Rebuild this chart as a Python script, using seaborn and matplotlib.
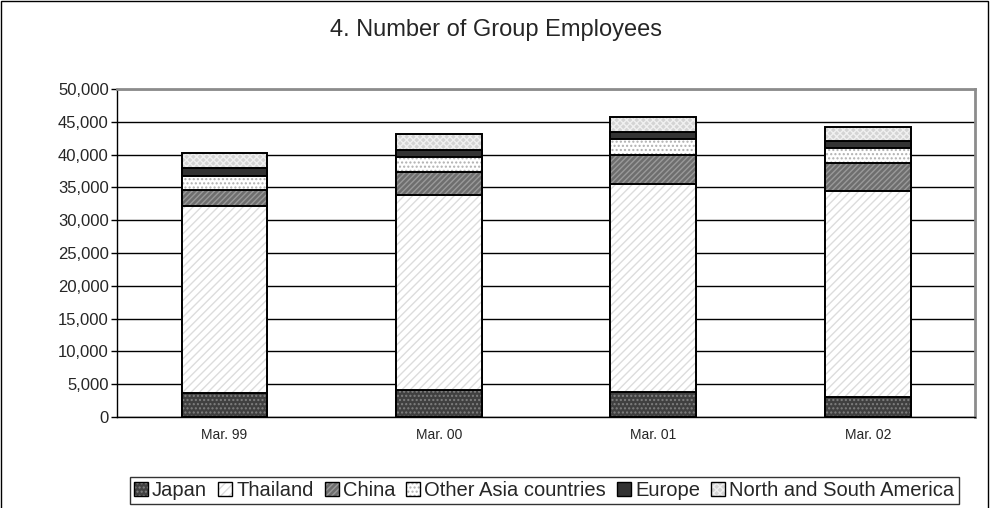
# Stacked bar chart: number of group employees by region
import pandas as pd
import matplotlib.pyplot as plt
import seaborn as sns
from matplotlib.patches import Rectangle, Patch
from matplotlib.ticker import FuncFormatter

# Data
periods = ['Mar. 99', 'Mar. 00', 'Mar. 01', 'Mar. 02']
regions = ['Japan', 'Thailand', 'China', 'Other Asia countries', 'Europe', 'North and South America']
japan = [3600, 4200, 3800, 3100]
thailand = [28500, 29600, 31700, 31400]
china = [2500, 3500, 4400, 4200]
other_asia = [2200, 2300, 2400, 2300]
europe = [1100, 1100, 1100, 1100]
americas = [2400, 2400, 2300, 2100]

# Fill styles (face colour, hatch, hatch colour)
faces = ['#404040', 'white', '#6e6e6e', 'white', '#333333', '#d4d4d4']
hatches = ['....', '////', '//////', '....', '', 'xxxxx']
hatch_colors = ['#808080', '#dcdcdc', '#9a9a9a', '#b0b0b0', '#333333', '#f0f0f0']

sns.set_style('white')
plt.rcParams['font.family'] = ['Liberation Sans', 'DejaVu Sans']
plt.rcParams['hatch.linewidth'] = 1.0

df = pd.DataFrame({'Period': periods, 'Japan': japan, 'Thailand': thailand, 'China': china,
                   'Other Asia countries': other_asia, 'Europe': europe,
                   'North and South America': americas})
long = df.melt(id_vars='Period', var_name='Region', value_name='Employees')
long['Top'] = long.groupby('Period')['Employees'].cumsum()

fig = plt.figure(figsize=(9.93, 5.08), dpi=100)
ax = fig.add_axes([0.118, 0.179, 0.864, 0.646])

# draw cumulative bars from the top segment down, each one covering the lower part
for i, k in enumerate(reversed(range(len(regions)))):
    sub = long[long['Region'] == regions[k]]
    n_before = len(ax.patches)
    sns.barplot(data=sub, x='Period', y='Top', order=periods, color=faces[k], saturation=1,
                width=0.4, edgecolor=hatch_colors[k], linewidth=0, hatch=hatches[k],
                errorbar=None, zorder=2 + 2 * i, ax=ax)
    for p in list(ax.patches[n_before:]):
        ax.add_patch(Rectangle(p.get_xy(), p.get_width(), p.get_height(), fill=False,
                               ec='black', lw=1.4, zorder=3 + 2 * i))

ax.set_ylim(0, 50000)
ax.set_yticks(range(0, 50001, 5000))
ax.yaxis.set_major_formatter(FuncFormatter(lambda v, _: f'{int(v):,}'))
ax.yaxis.grid(True, color='black', lw=1)
ax.set_axisbelow(True)
ax.set_xlabel('')
ax.set_ylabel('')
ax.tick_params(axis='y', labelsize=12, length=4, width=1, color='black', left=True, pad=2)
ax.tick_params(axis='x', labelsize=10, length=0, pad=8)

for s in ['left', 'bottom']:
    ax.spines[s].set_color('black')
    ax.spines[s].set_linewidth(1)
for s in ['top', 'right']:
    ax.spines[s].set_color('#8c8c8c')
    ax.spines[s].set_linewidth(2)

# legend with grey hatching and black outline
handles = []
for k in range(len(regions)):
    fill = Patch(facecolor=faces[k], edgecolor=hatch_colors[k], hatch=hatches[k], lw=0)
    outline = Patch(facecolor='none', edgecolor='black', lw=1)
    handles.append((fill, outline))
leg = fig.legend(handles, regions, loc='center', bbox_to_anchor=(0.548, 0.035), ncol=6,
                 frameon=True, fancybox=False, edgecolor='black', fontsize=14.5,
                 handlelength=0.7, handleheight=0.7, handletextpad=0.2,
                 columnspacing=0.55, borderpad=0.2, borderaxespad=0)
leg.get_frame().set_linewidth(1)

fig.text(0.5, 0.94, '4. Number of Group Employees', ha='center', va='center', fontsize=17)

# outer chart frame
fig.add_artist(Rectangle((0.001, -0.01), 0.994, 1.008, transform=fig.transFigure,
                         fill=False, ec='black', lw=1))

fig.savefig('out.png', dpi=100)
